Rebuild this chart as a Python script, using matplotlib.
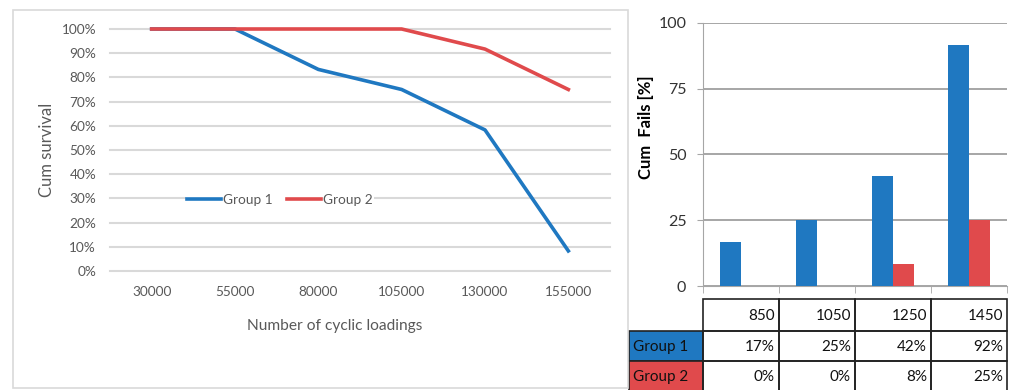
import numpy as np
import matplotlib.pyplot as plt
from matplotlib.patches import Rectangle
from matplotlib.ticker import PercentFormatter

plt.rcParams["font.family"] = ["Lato", "DejaVu Sans"]

# Left chart: cumulative survival per number of cyclic loadings
loadings = ["30000", "55000", "80000", "105000", "130000", "155000"]
survival_g1 = [100, 100, 83.3, 75, 58.3, 8.3]
survival_g2 = [100, 100, 100, 100, 91.7, 75]

# Right chart: cumulative fails per load
loads = ["850", "1050", "1250", "1450"]
fails_g1 = [16.7, 25, 41.7, 91.7]
fails_g2 = [0, 0, 8.3, 25]
groups = ["Group 1", "Group 2"]

blue = "#1f78c1"
red = "#e04a4c"
grey_txt = "#595959"

W, H = 1013, 390
fig = plt.figure(figsize=(W / 100, H / 100), dpi=100)

# Frame around the left chart
fig.add_artist(Rectangle((13 / W, 2 / H), 615 / W, 378 / H, transform=fig.transFigure,
                         fill=False, edgecolor="#d9d9d9", lw=1.2))

# ---- Left: line chart ----
ax1 = fig.add_axes([110 / W, 1 - 271 / H, 500 / W, 242 / H])
x = np.arange(len(loadings))
ax1.plot(x, survival_g1, color=blue, lw=2.6, label=groups[0], clip_on=False, zorder=3)
ax1.plot(x, survival_g2, color=red, lw=2.6, label=groups[1], clip_on=False, zorder=3)
ax1.set_xlim(-0.5, len(loadings) - 0.5)
ax1.set_ylim(0, 100)
ax1.set_xticks(x)
ax1.set_xticklabels(loadings)
ax1.set_yticks(np.arange(0, 101, 10))
ax1.yaxis.set_major_formatter(PercentFormatter(decimals=0))
ax1.tick_params(axis="both", length=0, labelsize=9.8, labelcolor=grey_txt)
ax1.tick_params(axis="x", pad=11)
ax1.tick_params(axis="y", pad=10)
ax1.yaxis.grid(True, color="#d9d9d9", lw=1.5, clip_on=False)
ax1.set_axisbelow(True)
for s in ax1.spines.values():
    s.set_visible(False)
ax1.set_xlabel("Number of cyclic loadings", fontsize=11.2, color=grey_txt)
ax1.xaxis.set_label_coords(0.45, -0.2)
ax1.set_ylabel("Cum survival", fontsize=12, color=grey_txt)
ax1.yaxis.set_label_coords(-0.11, 0.5)
leg = ax1.legend(loc="center", bbox_to_anchor=(0.34, 0.293), ncol=2, fontsize=9.8,
                 frameon=True, facecolor="white", edgecolor="none", framealpha=1,
                 handlelength=2.5, handletextpad=0.1, columnspacing=1.1,
                 borderpad=0.1, labelcolor=grey_txt)

# ---- Right: bar chart ----
ax2 = fig.add_axes([703 / W, 1 - 286 / H, 304 / W, 263.3 / H])
xb = np.arange(len(loads))
bw = 0.28
ax2.bar(xb - bw / 2, fails_g1, bw, color=blue, zorder=3)
ax2.bar(xb + bw / 2, fails_g2, bw, color=red, zorder=3)
ax2.set_xlim(-0.5, len(loads) - 0.5)
ax2.set_ylim(0, 100)
ax2.set_yticks([0, 25, 50, 75, 100])
ax2.set_xticks([])
ax2.set_xticks(np.arange(len(loads) + 1) - 0.5, minor=True)
ax2.tick_params(axis="x", which="minor", length=5, color="#a6a6a6", labelbottom=False)
ax2.tick_params(axis="y", length=4, color="#a6a6a6", labelsize=11.5, labelcolor="#333333", pad=8)
ax2.yaxis.grid(True, color="#a6a6a6", lw=1.4)
ax2.set_axisbelow(True)
ax2.spines["top"].set_visible(False)
ax2.spines["right"].set_visible(False)
ax2.spines["left"].set_color("#a6a6a6")
ax2.spines["bottom"].set_color("#a6a6a6")
ax2.set_ylabel("Cum  Fails [%]", fontsize=12, fontweight="bold")
ax2.yaxis.set_label_coords(-0.162, 0.604)

# ---- Data table under the bar chart (pixel coordinates) ----
tab = fig.add_axes([0, 0, 1, 1])
tab.set_xlim(0, W)
tab.set_ylim(H, 0)
tab.axis("off")
col_x = [629, 703, 779, 855, 931, 1007]
row_y = [299, 331, 361, 391]
rows = [
    (groups[0], blue, [f"{round(v)}%" for v in fails_g1]),
    (groups[1], red, [f"{round(v)}%" for v in fails_g2]),
]
txt_kw = dict(fontsize=11, color="#111111", va="center")
for j, lab in enumerate(loads):
    x0, x1 = col_x[j + 1], col_x[j + 2]
    tab.add_patch(Rectangle((x0, row_y[0]), x1 - x0, row_y[1] - row_y[0],
                            fill=False, edgecolor="#222222", lw=1.2, clip_on=False))
    tab.text(x1 - 4, (row_y[0] + row_y[1]) / 2 + 1, lab, ha="right", **txt_kw)
for i, (name, col, vals) in enumerate(rows):
    y0, y1 = row_y[i + 1], row_y[i + 2]
    tab.add_patch(Rectangle((col_x[0], y0), col_x[1] - col_x[0], y1 - y0,
                            facecolor=col, edgecolor="#222222", lw=1.2, clip_on=False))
    tab.text(col_x[0] + 4, (y0 + y1) / 2 + 1, name, ha="left", **txt_kw)
    for j, v in enumerate(vals):
        x0, x1 = col_x[j + 1], col_x[j + 2]
        tab.add_patch(Rectangle((x0, y0), x1 - x0, y1 - y0,
                                fill=False, edgecolor="#222222", lw=1.2, clip_on=False))
        tab.text(x1 - 4, (y0 + y1) / 2 + 1, v, ha="right", **txt_kw)

fig.savefig("out.png", dpi=100)
